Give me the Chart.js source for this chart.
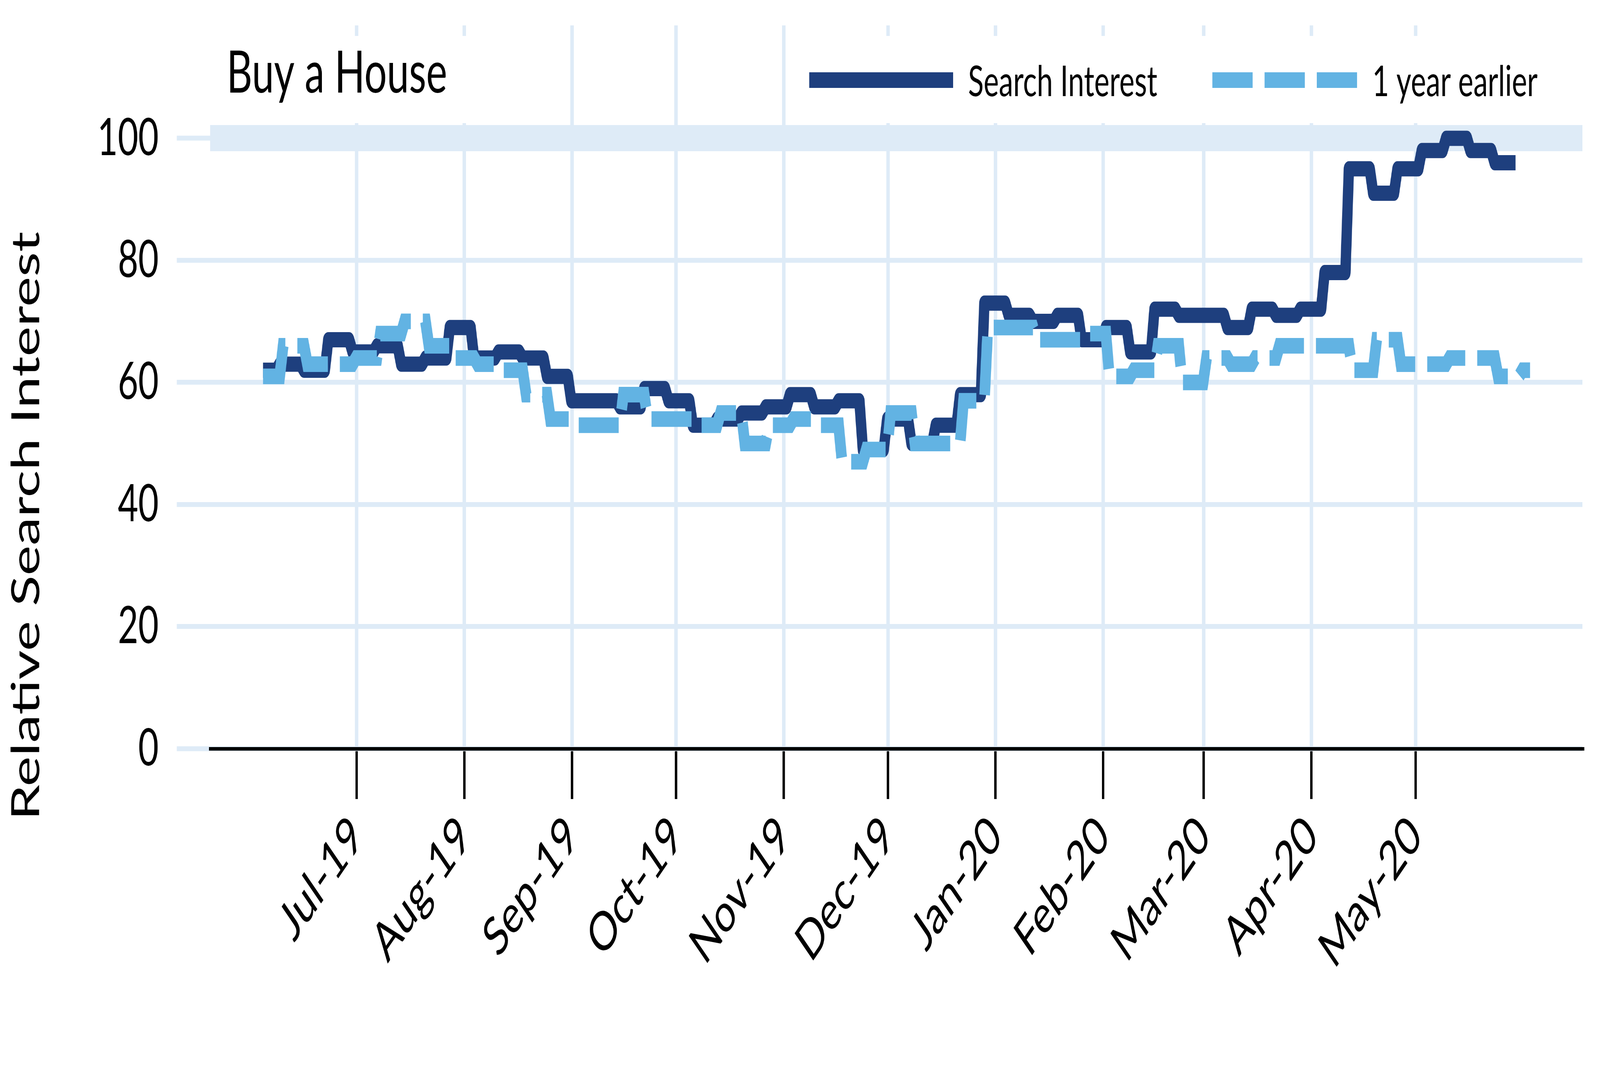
<!DOCTYPE html>
<html>
<head>
<meta charset="utf-8">
<title>Buy a House</title>
<script src="https://cdn.jsdelivr.net/npm/chart.js@4.4.0/dist/chart.umd.min.js"></script>
<style>
  html, body { margin: 0; padding: 0; background: #fff; overflow: hidden; }
  #wrap { width: 6001px; height: 2741px; position: absolute; left: 0; top: 0; transform-origin: 0 0; }
</style>
</head>
<body>
<div id="wrap"><canvas id="monGraphe" width="6001" height="2741"></canvas></div>
<script>
// weekly values (week k starts ~ day 7k, day 0 = 1 Jun 2019)
const searchInterest = [62, 63, 62, 67, 65, 66, 63, 64, 69, 64,
  65, 64, 61, 57, 57, 56, 59, 57, 53, 54,
  55, 56, 58, 56, 57, 49, 54, 50, 53, 58,
  73, 71, 70, 71, 67, 69, 65, 72, 71, 71,
  69, 72, 71, 72, 78, 95, 91, 95, 98, 100,
  98, 96];
// same weeks one year earlier (shifted one day)
const yearEarlier = [61, 66, 63, 63, 64, 68, 70, 66, 64, 63,
  62, 58, 54, 53, 53, 58, 54, 54, 53, 55,
  50, 53, 54, 53, 47, 49, 55, 50, 50, 57,
  69, 69, 67, 67, 68, 61, 62, 66, 60, 64,
  63, 64, 66, 66, 66, 62, 67, 63, 63, 64,
  64, 61, 62];

const monthDays = [30, 61, 92, 122, 153, 183, 214, 245, 274, 305, 335];
const monthLabels = ['Jul-19', 'Aug-19', 'Sep-19', 'Oct-19', 'Nov-19', 'Dec-19',
  'Jan-20', 'Feb-20', 'Mar-20', 'Apr-20', 'May-20'];
const yTicks = [0, 20, 40, 60, 80, 100];

const darkBlue = '#1e3f7e';
const lightBlue = '#62b3e3';
const gridBlue = '#deebf7';
const fontName = 'Lato';

// chart is laid out at 6001x2741 and stretched onto the real window
const W = 6001, H = 2741;
const wrap = document.getElementById('wrap');
const vw = document.documentElement.clientWidth || window.innerWidth || W;
const vh = document.documentElement.clientHeight || window.innerHeight || H;
wrap.style.transform = 'scale(' + (vw / W) + ',' + (vh / H) + ')';

// each weekly value held flat over its week, 1 day slope to the next one
function weekPoints(values, offset, first, last) {
  const pts = [];
  values.forEach((v, k) => {
    pts.push({ x: Math.max(7 * k + offset, first), y: v });
    pts.push({ x: Math.min(7 * k + offset + 6, last), y: v });
  });
  return pts;
}

const overlay = {
  id: 'overlay',
  beforeDatasetsDraw(chart) {
    const ctx = chart.ctx;
    ctx.save();
    // white boxes behind title and legend
    ctx.fillStyle = '#fff';
    ctx.fillRect(800, 92, 1150, 223);
    ctx.fillRect(2990, 92, 2890, 223);

    ctx.fillStyle = '#000';
    ctx.textBaseline = 'alphabetic';
    ctx.textAlign = 'left';
    ctx.font = '149px ' + fontName;
    ctx.fillText('Buy a House', 850, 237);

    // legend
    ctx.lineCap = 'butt';
    ctx.lineWidth = 40;
    ctx.strokeStyle = darkBlue;
    ctx.beginPath(); ctx.moveTo(3035, 205); ctx.lineTo(3575, 205); ctx.stroke();
    ctx.strokeStyle = lightBlue;
    ctx.setLineDash([151, 45]);
    ctx.beginPath(); ctx.moveTo(4547, 205); ctx.lineTo(5090, 205); ctx.stroke();
    ctx.setLineDash([]);
    ctx.font = '108px ' + fontName;
    ctx.fillText('Search Interest', 3631, 246);
    ctx.fillText('1 year earlier', 5147, 246);

    // y axis title
    ctx.translate(147, 1346);
    ctx.rotate(-Math.PI / 2);
    ctx.textAlign = 'center';
    ctx.font = '146px ' + fontName;
    ctx.fillText('Relative Search Interest', 0, 0);
    ctx.restore();
  }
};

const ctx = document.getElementById('monGraphe');
const myChart = new Chart(ctx, {
  type: 'line',
  data: {
    datasets: [
      {
        label: 'Search Interest',
        data: weekPoints(searchInterest, 0.8, 3, 363.8),
        borderColor: darkBlue,
        borderWidth: 39,
        borderJoinStyle: 'round',
        borderCapStyle: 'butt',
        pointRadius: 0,
        tension: 0,
        order: 2
      },
      {
        label: '1 year earlier',
        data: weekPoints(yearEarlier, 1.8, 3, 368),
        borderColor: lightBlue,
        borderWidth: 40,
        borderDash: [150, 45],
        borderJoinStyle: 'miter',
        borderCapStyle: 'butt',
        pointRadius: 0,
        tension: 0,
        order: 1
      }
    ]
  },
  options: {
    responsive: false,
    devicePixelRatio: 1,
    animation: false,
    layout: { padding: { top: 65, right: 66, left: 0, bottom: 0 } },
    plugins: { legend: { display: false }, title: { display: false }, tooltip: { enabled: false } },
    scales: {
      x: {
        type: 'linear',
        min: -12.24,
        max: 383.07,
        afterBuildTicks: s => { s.ticks = monthDays.map(v => ({ value: v })); },
        afterFit: s => {
          s.height = 825;
          s.paddingLeft = 0; s.paddingRight = 0; s.paddingTop = 0; s.paddingBottom = 0;
        },
        ticks: {
          autoSkip: false,
          maxRotation: 45,
          minRotation: 45,
          padding: 12,
          color: '#000',
          font: { family: fontName, size: 138 },
          callback: (value, index) => monthLabels[index]
        },
        grid: {
          color: gridBlue,
          lineWidth: 13,
          tickColor: '#000',
          tickWidth: 9,
          tickLength: 129
        },
        border: { display: true, color: '#000', width: 9 }
      },
      y: {
        min: 0,
        max: 118.5,
        afterBuildTicks: s => { s.ticks = yTicks.map(v => ({ value: v })); },
        afterFit: s => {
          s.width = 788;
          s.paddingLeft = 0; s.paddingRight = 0; s.paddingTop = 0; s.paddingBottom = 0;
        },
        ticks: {
          padding: 68,
          color: '#000',
          font: { family: fontName, size: 132 }
        },
        grid: {
          color: gridBlue,
          lineWidth: c => (c.tick && c.tick.value === 100 ? 67 : 12.6),
          tickColor: gridBlue,
          tickWidth: 12.6,
          tickLength: 125
        },
        border: { display: false }
      }
    }
  },
  plugins: [overlay]
});
</script>
</body>
</html>
